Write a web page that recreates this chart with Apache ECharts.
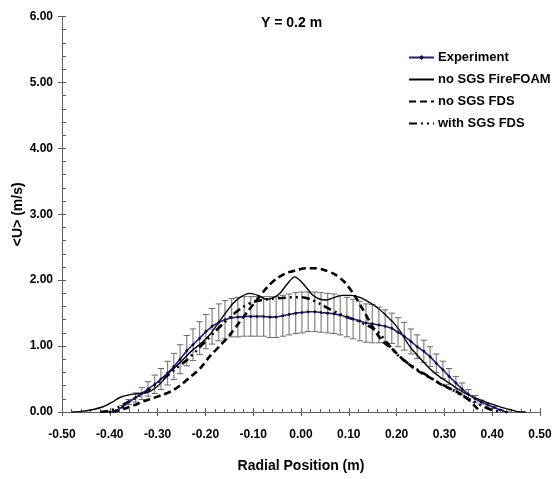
<!DOCTYPE html>
<html>
<head>
<meta charset="utf-8">
<script src="https://cdn.jsdelivr.net/npm/echarts@6/dist/echarts.min.js"></script>
<style>
  html, body { margin: 0; padding: 0; background: #fff; }
  #chart { width: 555px; height: 479px; }
</style>
</head>
<body>
<div id="chart"></div>
<script>
// experiment: radial position, mean velocity, error half-width
const expX = [-0.400, -0.387, -0.373, -0.360, -0.346, -0.333, -0.320, -0.306, -0.293, -0.279,
  -0.266, -0.253, -0.239, -0.226, -0.212, -0.199, -0.186, -0.172, -0.159, -0.145,
  -0.132, -0.119, -0.105, -0.092, -0.078, -0.065, -0.052, -0.038, -0.025, -0.011,
  0.002, 0.015, 0.029, 0.042, 0.056, 0.069, 0.082, 0.096, 0.109, 0.123,
  0.136, 0.149, 0.163, 0.176, 0.190, 0.203, 0.216, 0.230, 0.243, 0.257,
  0.270, 0.283, 0.297, 0.310, 0.324, 0.337, 0.350, 0.364, 0.377, 0.391,
  0.404, 0.417, 0.430];
const expU = [0.00, 0.02, 0.08, 0.15, 0.22, 0.28, 0.35, 0.42, 0.50, 0.59,
  0.69, 0.80, 0.93, 1.02, 1.12, 1.22, 1.30, 1.36, 1.40, 1.43,
  1.44, 1.45, 1.45, 1.45, 1.45, 1.44, 1.44, 1.46, 1.48, 1.50,
  1.51, 1.52, 1.52, 1.51, 1.50, 1.49, 1.47, 1.44, 1.41, 1.38,
  1.35, 1.34, 1.32, 1.30, 1.27, 1.21, 1.15, 1.07, 0.99, 0.92,
  0.84, 0.74, 0.64, 0.54, 0.44, 0.35, 0.27, 0.20, 0.15, 0.11,
  0.07, 0.03, 0.00];
const expErr = [0.00, 0.01, 0.02, 0.04, 0.07, 0.09, 0.11, 0.14, 0.16, 0.18,
  0.20, 0.22, 0.23, 0.24, 0.25, 0.26, 0.27, 0.28, 0.29, 0.29,
  0.30, 0.30, 0.30, 0.30, 0.30, 0.31, 0.31, 0.31, 0.31, 0.31,
  0.31, 0.30, 0.30, 0.30, 0.30, 0.30, 0.30, 0.30, 0.30, 0.30,
  0.29, 0.29, 0.27, 0.25, 0.23, 0.22, 0.21, 0.19, 0.18, 0.17,
  0.15, 0.14, 0.13, 0.12, 0.10, 0.09, 0.07, 0.05, 0.03, 0.02,
  0.01, 0.00, 0.00];

// no SGS FireFOAM (solid)
const foamX = [-0.480, -0.460, -0.440, -0.414, -0.395, -0.379, -0.360, -0.340, -0.320, -0.302,
  -0.288, -0.274, -0.260, -0.246, -0.230, -0.211, -0.190, -0.170, -0.155, -0.142,
  -0.125, -0.107, -0.090, -0.072, -0.058, -0.044, -0.028, -0.013, 0.000, 0.012,
  0.025, 0.040, 0.054, 0.070, 0.088, 0.105, 0.123, 0.144, 0.162, 0.179,
  0.193, 0.207, 0.228, 0.256, 0.275, 0.291, 0.310, 0.326, 0.345, 0.360,
  0.380, 0.395, 0.420, 0.440, 0.458, 0.470];
const foamU = [0.00, 0.01, 0.03, 0.08, 0.15, 0.22, 0.26, 0.28, 0.30, 0.38,
  0.48, 0.61, 0.70, 0.80, 0.92, 1.03, 1.18, 1.38, 1.53, 1.65,
  1.75, 1.80, 1.77, 1.71, 1.73, 1.80, 1.95, 2.05, 1.98, 1.88,
  1.77, 1.71, 1.70, 1.74, 1.77, 1.77, 1.74, 1.66, 1.57, 1.46,
  1.36, 1.23, 0.99, 0.76, 0.62, 0.53, 0.44, 0.36, 0.28, 0.23,
  0.17, 0.13, 0.07, 0.03, 0.00, 0.00];

// no SGS FDS (dashed)
const fdsX = [-0.395, -0.370, -0.350, -0.330, -0.310, -0.290, -0.270, -0.250, -0.230, -0.210,
  -0.190, -0.170, -0.150, -0.130, -0.110, -0.090, -0.070, -0.050, -0.030, -0.010,
  0.010, 0.030, 0.050, 0.070, 0.090, 0.110, 0.130, 0.150, 0.170, 0.190,
  0.210, 0.230, 0.250, 0.270, 0.290, 0.310, 0.330, 0.350, 0.365, 0.375];
const fdsU = [0.00, 0.05, 0.10, 0.16, 0.21, 0.26, 0.32, 0.42, 0.54, 0.67,
  0.85, 1.00, 1.16, 1.35, 1.54, 1.72, 1.90, 2.03, 2.11, 2.15,
  2.18, 2.18, 2.15, 2.09, 1.98, 1.79, 1.55, 1.29, 1.08, 0.96,
  0.82, 0.70, 0.60, 0.52, 0.43, 0.36, 0.29, 0.19, 0.08, 0.00];

// with SGS FDS (dash-dot)
const sgsX = [-0.420, -0.400, -0.380, -0.360, -0.340, -0.320, -0.300, -0.280, -0.260, -0.240,
  -0.220, -0.200, -0.180, -0.160, -0.140, -0.120, -0.100, -0.080, -0.060, -0.040,
  -0.020, 0.000, 0.020, 0.040, 0.060, 0.080, 0.100, 0.120, 0.140, 0.160,
  0.180, 0.200, 0.220, 0.240, 0.260, 0.280, 0.300, 0.320, 0.340, 0.360,
  0.380, 0.400, 0.420];
const sgsU = [0.00, 0.02, 0.08, 0.16, 0.24, 0.33, 0.44, 0.55, 0.67, 0.78,
  0.92, 1.07, 1.22, 1.36, 1.49, 1.60, 1.67, 1.70, 1.72, 1.73,
  1.74, 1.74, 1.71, 1.64, 1.56, 1.49, 1.43, 1.38, 1.31, 1.22,
  1.05, 0.88, 0.76, 0.66, 0.57, 0.48, 0.40, 0.32, 0.24, 0.16,
  0.09, 0.03, 0.00];

const zip = (xs, ys) => xs.map((x, i) => [x, ys[i]]);
const errData = expX.map((x, i) => [x, expU[i] - expErr[i], expU[i] + expErr[i]]);

const font = 'Liberation Sans';
const chart = echarts.init(document.getElementById('chart'));

const baseAxis = {
  axisLine: { show: true, onZero: false, lineStyle: { color: '#606060', width: 1 } },
  splitLine: { show: false },
};
const hidden = { opacity: 0 };

const option = {
  animation: false,
  backgroundColor: '#fff',
  title: {
    text: 'Y = 0.2 m',
    left: 256, top: 11,
    textStyle: { fontFamily: font, fontSize: 14, fontWeight: 'bold', color: '#000' }
  },
  legend: {
    orient: 'vertical',
    left: 403, top: 46,
    itemWidth: 25, itemHeight: 6, itemGap: 9,
    data: [
      { name: 'Experiment' },
      { name: 'no SGS FireFOAM', itemStyle: hidden },
      { name: 'no SGS FDS', itemStyle: hidden },
      { name: 'with SGS FDS', itemStyle: hidden }
    ],
    textStyle: { fontFamily: font, fontSize: 13, fontWeight: 'bold', color: '#000', padding: [0, 0, 0, -1] }
  },
  grid: { left: 62, right: 15, top: 16.5, bottom: 67, outerBoundsMode: 'none' },
  xAxis: [{
    ...baseAxis,
    type: 'value', min: -0.5, max: 0.5, interval: 0.1,
    name: 'Radial Position (m)', nameLocation: 'middle', nameGap: 47,
    nameTextStyle: { fontFamily: font, fontSize: 14, fontWeight: 'bold', color: '#000' },
    axisTick: { show: true, inside: true, length: 4, lineStyle: { color: '#606060' } },
    minorTick: { show: true, splitNumber: 5, length: 3, lineStyle: { color: '#606060' } },
    axisLabel: { fontFamily: font, fontSize: 12, fontWeight: 'bold', color: '#000', margin: 17,
      formatter: v => v.toFixed(2) }
  }, {
    ...baseAxis,
    type: 'value', min: -0.5, max: 0.5, interval: 0.1, position: 'bottom',
    axisTick: { show: true, inside: false, length: 4, lineStyle: { color: '#606060' } },
    axisLabel: { show: false }
  }],
  yAxis: [{
    ...baseAxis,
    type: 'value', min: 0, max: 6, interval: 1,
    name: '<U> (m/s)', nameLocation: 'middle', nameGap: 37, nameMoveOverlap: false,
    nameTextStyle: { fontFamily: font, fontSize: 14, fontWeight: 'bold', color: '#000' },
    axisTick: { show: true, inside: true, length: 4, lineStyle: { color: '#606060' } },
    minorTick: { show: true, splitNumber: 5, length: 4, lineStyle: { color: '#606060' } },
    axisLabel: { fontFamily: font, fontSize: 12, fontWeight: 'bold', color: '#000', margin: 9,
      formatter: v => v.toFixed(2) }
  }, {
    ...baseAxis,
    type: 'value', min: 0, max: 6, interval: 1, position: 'left',
    axisTick: { show: true, inside: false, length: 4, lineStyle: { color: '#606060' } },
    axisLabel: { show: false }
  }],
  series: [
    {
      name: 'error',
      type: 'custom',
      data: errData,
      z: 1,
      renderItem: (params, api) => {
        const x = api.value(0);
        const lo = api.coord([x, api.value(1)]);
        const hi = api.coord([x, api.value(2)]);
        const w = 3.2;
        const st = { stroke: '#6a6a6a', lineWidth: 1 };
        return {
          type: 'group',
          children: [
            { type: 'line', shape: { x1: lo[0], y1: lo[1], x2: hi[0], y2: hi[1] }, style: st },
            { type: 'line', shape: { x1: hi[0] - w, y1: hi[1], x2: hi[0] + w, y2: hi[1] }, style: st },
            { type: 'line', shape: { x1: lo[0] - w, y1: lo[1], x2: lo[0] + w, y2: lo[1] }, style: st }
          ]
        };
      }
    },
    {
      name: 'no SGS FDS',
      type: 'line',
      data: zip(fdsX, fdsU),
      smooth: 0.3,
      symbol: 'none',
      z: 3,
      lineStyle: { color: '#000', width: 2.6, type: [7, 4] },
      itemStyle: { color: '#000' }
    },
    {
      name: 'with SGS FDS',
      type: 'line',
      data: zip(sgsX, sgsU),
      smooth: 0.3,
      symbol: 'none',
      z: 3,
      lineStyle: { color: '#000', width: 2.6, type: [8, 4, 2, 4, 2, 4] },
      itemStyle: { color: '#000' }
    },
    {
      name: 'no SGS FireFOAM',
      type: 'line',
      data: zip(foamX, foamU),
      smooth: 0.3,
      symbol: 'none',
      z: 4,
      lineStyle: { color: '#000', width: 1.4 },
      itemStyle: { color: '#000' }
    },
    {
      name: 'Experiment',
      type: 'line',
      data: zip(expX, expU),
      symbol: 'diamond',
      symbolSize: 3.5,
      z: 5,
      lineStyle: { color: '#1c1c96', width: 1.6 },
      itemStyle: { color: '#111' }
    }
  ]
};

chart.setOption(option);
</script>
</body>
</html>
